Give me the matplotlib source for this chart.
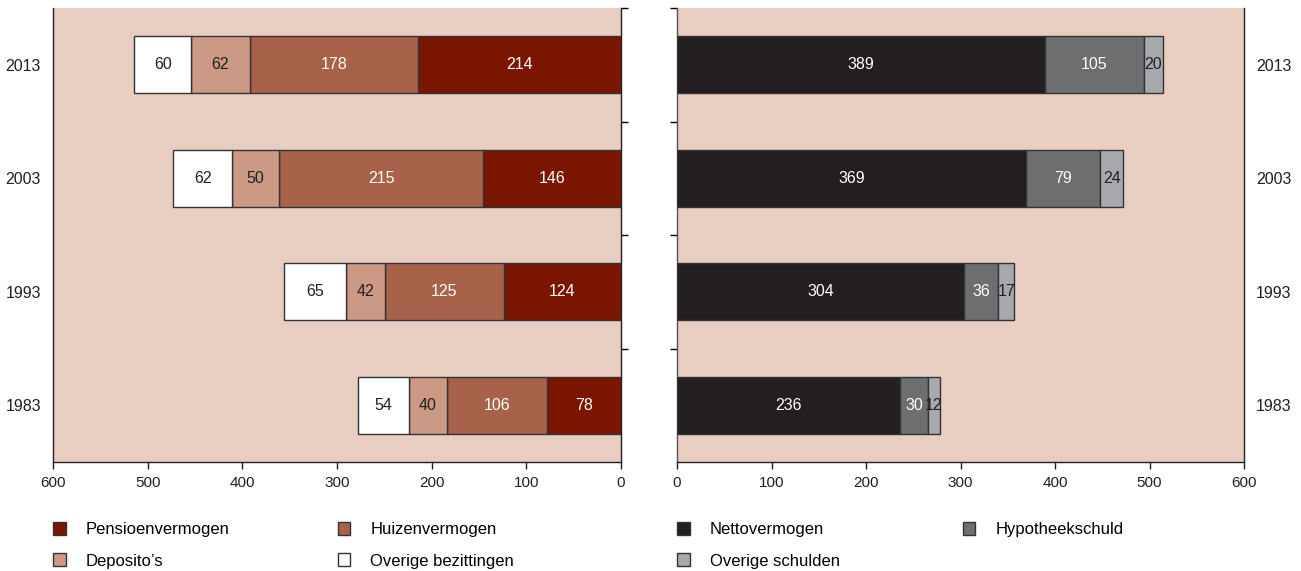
import matplotlib
matplotlib.use("Agg")
import matplotlib.pyplot as plt
from matplotlib.patches import Patch

plt.rcParams['font.family'] = ['Liberation Sans', 'DejaVu Sans']

# data (bn euro)
years = ["1983", "1993", "2003", "2013"]
pensioen = [78, 124, 146, 214]
huizen = [106, 125, 215, 178]
deposito = [40, 42, 50, 62]
overige_bez = [54, 65, 62, 60]

netto = [236, 304, 369, 389]
hypotheek = [30, 36, 79, 105]
overige_sch = [12, 17, 24, 20]

bg = "#e8cdc1"
edge = "#333333"

fig = plt.figure(figsize=(13.01, 5.71), dpi=100)
ax1 = fig.add_axes([53/1301, 1 - 462/571, 568/1301, 454/571])
ax2 = fig.add_axes([677/1301, 1 - 462/571, 567/1301, 454/571])

pos = list(range(len(years)))


def stack(ax, series, colors, txtcolors):
    left = [0] * len(pos)
    for vals, c, tc in zip(series, colors, txtcolors):
        bars = ax.barh(pos, vals, left=left, height=0.5, color=c,
                       edgecolor=edge, linewidth=1, zorder=3)
        ax.bar_label(bars, labels=[str(v) for v in vals], label_type="center",
                     color=tc, fontsize=11.5)
        left = [a + b for a, b in zip(left, vals)]


left_cols = ["#7a1500", "#a8624a", "#cc9a84", "#ffffff"]
stack(ax1, [pensioen, huizen, deposito, overige_bez], left_cols,
      ["white", "white", "#231f20", "#231f20"])

right_cols = ["#231f20", "#6d6e70", "#a7a9ac"]
stack(ax2, [netto, hypotheek, overige_sch], right_cols,
      ["white", "white", "#231f20"])

for ax in (ax1, ax2):
    ax.set_facecolor(bg)
    ax.set_xlim(0, 600)
    ax.set_ylim(-0.5, 3.5)
    ax.set_xticks(range(0, 601, 100))
    ax.set_yticks(pos)
    ax.set_yticklabels(years)
    ax.set_yticks([p + 0.5 for p in pos], minor=True)
    ax.tick_params(axis="y", which="major", length=0, labelsize=11.5, pad=8.6,
                   colors="#231f20")
    ax.tick_params(axis="y", which="minor", length=5, width=1, direction="out")
    ax.tick_params(axis="x", length=5, width=1, pad=5, labelsize=11,
                   colors="#231f20")
    ax.spines["top"].set_visible(False)
    for s in ("left", "right", "bottom"):
        ax.spines[s].set_color("#231f20")
        ax.spines[s].set_linewidth(1)

ax1.invert_xaxis()
ax1.tick_params(axis="y", which="minor", left=False, right=True)
ax2.yaxis.tick_right()
ax2.tick_params(axis="y", which="minor", left=True, right=False)
ax2.tick_params(axis="y", which="major", pad=8.6)
ax2.spines["left"].set_color("#555555")

leg_kw = dict(loc="upper left", frameon=False, fontsize=12, ncol=2,
              borderaxespad=0, borderpad=0, handlelength=0.75,
              handleheight=0.85, handletextpad=1.2, labelspacing=0.95)

h1 = [Patch(facecolor=left_cols[0], edgecolor=edge, label="Pensioenvermogen"),
      Patch(facecolor=left_cols[2], edgecolor=edge, label="Deposito\u2019s"),
      Patch(facecolor=left_cols[1], edgecolor=edge, label="Huizenvermogen"),
      Patch(facecolor=left_cols[3], edgecolor=edge, label="Overige bezittingen")]
leg1 = ax1.legend(handles=h1, columnspacing=6.5, **leg_kw)
# legend anchored at left edge of the (inverted) axis
leg1.set_bbox_to_anchor((0.0, -0.132), transform=ax1.transAxes)

h2 = [Patch(facecolor=right_cols[0], edgecolor=edge, label="Nettovermogen"),
      Patch(facecolor=right_cols[2], edgecolor=edge, label="Overige schulden"),
      Patch(facecolor=right_cols[1], edgecolor=edge, label="Hypotheekschuld")]
ax2.legend(handles=h2, bbox_to_anchor=(0.0, -0.132), columnspacing=7.4,
           **leg_kw)

fig.savefig("out.png", dpi=100, facecolor="white")
